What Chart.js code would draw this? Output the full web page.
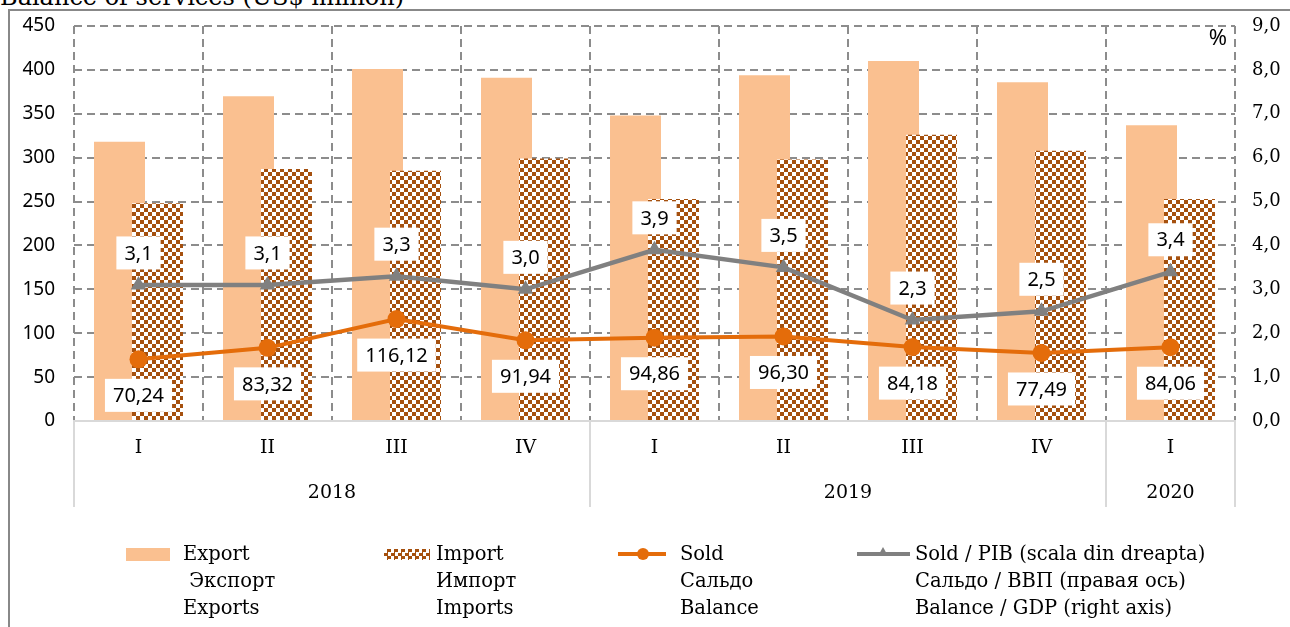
<!DOCTYPE html>
<html>
<head>
<meta charset="utf-8">
<script src="https://cdn.jsdelivr.net/npm/chart.js@4.4.1/dist/chart.umd.min.js"></script>
<style>
  body { margin: 0; background: #fff; width: 1290px; height: 627px; overflow: hidden; position: relative; font-family: "DejaVu Serif", serif; }
  #frame { position: absolute; left: 8px; top: 9px; width: 1300px; height: 660px; border: 2px solid #888; box-sizing: border-box; }
  #title { position: absolute; left: 0; top: -15px; font-size: 24px; line-height: 24px; white-space: nowrap; }
  #wrap { position: absolute; left: 0; top: 0; width: 1290px; height: 627px; }
  .leg { position: absolute; top: 540px; font-size: 19.5px; line-height: 27px; color: #000; white-space: nowrap; }
  .sw { position: absolute; }
</style>
</head>
<body>
<div id="title">Balance of services (US$ million)</div>
<div id="frame"></div>
<div id="wrap"><canvas id="chart"></canvas></div>
<div id="legend"></div>
<script>
// quarters and years (two-level category axis)
const quarters = ["I", "II", "III", "IV", "I", "II", "III", "IV", "I"];
const quarterYear = ["2018", "2018", "2018", "2018", "2019", "2019", "2019", "2019", "2020"];
const years = ["2018", "2019", "2020"];

// US$ million
const exportValues = [318, 370, 401, 391, 348, 394, 410, 386, 337];
const importValues = [248, 287, 285, 299, 253, 298, 326, 308, 253];
const balanceValues = [70.24, 83.32, 116.12, 91.94, 94.86, 96.30, 84.18, 77.49, 84.06];
// % of GDP, right axis
const balanceGdp = [3.1, 3.1, 3.3, 3.0, 3.9, 3.5, 2.3, 2.5, 3.4];

const leftTicks = [0, 50, 100, 150, 200, 250, 300, 350, 400, 450];
const rightTicks = [0, 1, 2, 3, 4, 5, 6, 7, 8, 9];

const legendText = [
  ["Export", " Экспорт", "Exports"],
  ["Import", "Импорт", "Imports"],
  ["Sold", "Сальдо", "Balance"],
  ["Sold / PIB (scala din dreapta)", "Сальдо / ВВП (правая ось)", "Balance / GDP (right axis)"],
];

const ORANGE = "#E46C0A";
const GREY = "#808080";
const PEACH = "#FAC090";
const BROWN = "#A5500E";
const comma = (v, d) => v.toFixed(d).replace(".", ",");

// checkered fill for imports
const pc = document.createElement("canvas");
pc.width = 8; pc.height = 8;
const pctx = pc.getContext("2d");
pctx.fillStyle = "#fff"; pctx.fillRect(0, 0, 8, 8);
pctx.fillStyle = BROWN; pctx.fillRect(0, 0, 4, 4); pctx.fillRect(4, 4, 4, 4);
const checker = pctx.createPattern(pc, "repeat");

// import bar sits on top of the export bar it overlaps
const barOverlap = {
  id: "barOverlap",
  beforeDatasetDraw(chart, args) {
    if (args.index === 3) return false;
  },
  afterDatasetDraw(chart, args) {
    if (args.index === 2) chart.getDatasetMeta(3).controller.draw();
  }
};

// boxed value labels
const valueLabels = {
  id: "valueLabels",
  afterDatasetsDraw(chart) {
    const ctx = chart.ctx;
    ctx.save();
    ctx.font = '20px "Noto Sans"';
    ctx.textAlign = "center";
    ctx.textBaseline = "middle";
    [[0, 36, 2], [1, -32, 1]].forEach(([di, off, dec]) => {
      const meta = chart.getDatasetMeta(di);
      meta.data.forEach((pt, i) => {
        const txt = comma(chart.data.datasets[di].data[i], dec);
        const w = ctx.measureText(txt).width + 16;
        const h = 33;
        const y = pt.y + off;
        ctx.fillStyle = "#fff";
        ctx.fillRect(pt.x - w / 2, y - h / 2, w, h);
        ctx.fillStyle = "#000";
        ctx.fillText(txt, pt.x, y + 1);
      });
    });
    // unit of the right axis
    ctx.font = '22px "Noto Sans"';
    ctx.textAlign = "right";
    ctx.fillText("%", chart.chartArea.right - 8, chart.chartArea.top + 13);
    ctx.restore();
  }
};

// second level of the category axis: years and separators
const yearAxis = {
  id: "yearAxis",
  afterDraw(chart) {
    const xs = chart.scales.x, ctx = chart.ctx;
    const half = (xs.getPixelForValue(1) - xs.getPixelForValue(0)) / 2;
    ctx.save();
    ctx.strokeStyle = "#d9d9d9";
    ctx.lineWidth = 2;
    ctx.font = '19px "DejaVu Serif"';
    ctx.fillStyle = "#000";
    ctx.textAlign = "center";
    ctx.textBaseline = "middle";
    years.forEach((yr) => {
      const idx = quarterYear.map((q, i) => (q === yr ? i : -1)).filter((i) => i >= 0);
      const l = xs.getPixelForValue(idx[0]) - half;
      const r = xs.getPixelForValue(idx[idx.length - 1]) + half;
      [l, r].forEach((px) => {
        ctx.beginPath();
        ctx.moveTo(px, xs.top);
        ctx.lineTo(px, xs.top + 86);
        ctx.stroke();
      });
      ctx.fillText(yr, (l + r) / 2, xs.top + 72);
    });
    ctx.restore();
  }
};

new Chart(document.getElementById("chart"), {
  data: {
    labels: quarters,
    datasets: [
      {
        type: "line", label: legendText[2][0], data: balanceValues, yAxisID: "y", order: 1,
        borderColor: ORANGE, borderWidth: 4, pointRadius: 9, pointBackgroundColor: ORANGE,
        pointBorderWidth: 0, tension: 0,
      },
      {
        type: "line", label: legendText[3][0], data: balanceGdp, yAxisID: "y1", order: 0,
        borderColor: GREY, borderWidth: 4.5, pointStyle: "triangle", pointRadius: 9,
        pointBackgroundColor: GREY, pointBorderWidth: 0, tension: 0,
      },
      {
        type: "bar", label: legendText[0][0], data: exportValues, yAxisID: "y", order: 2,
        backgroundColor: PEACH, categoryPercentage: 0.589, barPercentage: 1.342,
      },
      {
        type: "bar", label: legendText[1][0], data: importValues, yAxisID: "y", order: 2,
        backgroundColor: checker, categoryPercentage: 0.589, barPercentage: 1.342,
      },
    ],
  },
  options: {
    responsive: true,
    maintainAspectRatio: false,
    animation: false,
    layout: { padding: { top: 26, left: 0, right: 0, bottom: 0 } },
    plugins: { legend: { display: false }, tooltip: { enabled: false } },
    scales: {
      x: {
        grid: { color: "#8c8c8c", lineWidth: 2, offset: true, drawTicks: false },
        border: { color: "#d9d9d9", width: 2, dash: [8, 5] },
        ticks: { color: "#000", font: { family: "DejaVu Serif", size: 19 }, padding: 16, maxRotation: 0, autoSkip: false },
        afterFit(s) { s.height = 206; },
      },
      y: {
        position: "left", min: leftTicks[0], max: leftTicks[leftTicks.length - 1],
        afterBuildTicks(s) { s.ticks = leftTicks.map((v) => ({ value: v })); },
        grid: { color: "#8c8c8c", lineWidth: 2, drawTicks: false },
        border: { display: false, dash: [8, 5] },
        ticks: { color: "#000", font: { family: "Noto Sans", size: 19 }, padding: 19 },
        afterFit(s) { s.width = 74; s.paddingTop = 0; },
      },
      y1: {
        position: "right", min: rightTicks[0], max: rightTicks[rightTicks.length - 1],
        afterBuildTicks(s) { s.ticks = rightTicks.map((v) => ({ value: v })); },
        grid: { display: false, drawTicks: false },
        border: { display: false },
        ticks: { color: "#000", font: { family: "DejaVu Serif", size: 18 }, padding: 17, callback: (v) => comma(v, 1) },
        afterFit(s) { s.width = 55; s.paddingTop = 0; },
      },
    },
  },
  plugins: [barOverlap, valueLabels, yearAxis],
});

// legend: swatch + three language lines
const legend = document.getElementById("legend");
const textLeft = [183, 436, 680, 915];
const swatches = [
  '<div class="sw" style="left:126px;top:548px;width:44px;height:13px;background:' + PEACH + '"></div>',
  '<div class="sw" style="left:384px;top:549px;width:46px;height:11px;background:repeating-conic-gradient(' + BROWN + ' 0 25%,#fff 0 50%) 0 0/7px 7px"></div>',
  '<div class="sw" style="left:618px;top:552px;width:48px;height:4px;background:' + ORANGE + '"></div>' +
    '<div class="sw" style="left:637px;top:548px;width:12px;height:12px;border-radius:6px;background:' + ORANGE + '"></div>',
  '<div class="sw" style="left:857px;top:552px;width:53px;height:4px;background:' + GREY + '"></div>' +
    '<div class="sw" style="left:878px;top:547px;width:0;height:0;border-left:5px solid transparent;border-right:5px solid transparent;border-bottom:9px solid ' + GREY + '"></div>',
];
legendText.forEach((lines, i) => {
  legend.insertAdjacentHTML("beforeend", swatches[i] +
    '<div class="leg" style="left:' + textLeft[i] + 'px">' + lines.map((t) => t.replace(/^ /, "&nbsp;")).join("<br>") + "</div>");
});
</script>
</body>
</html>
